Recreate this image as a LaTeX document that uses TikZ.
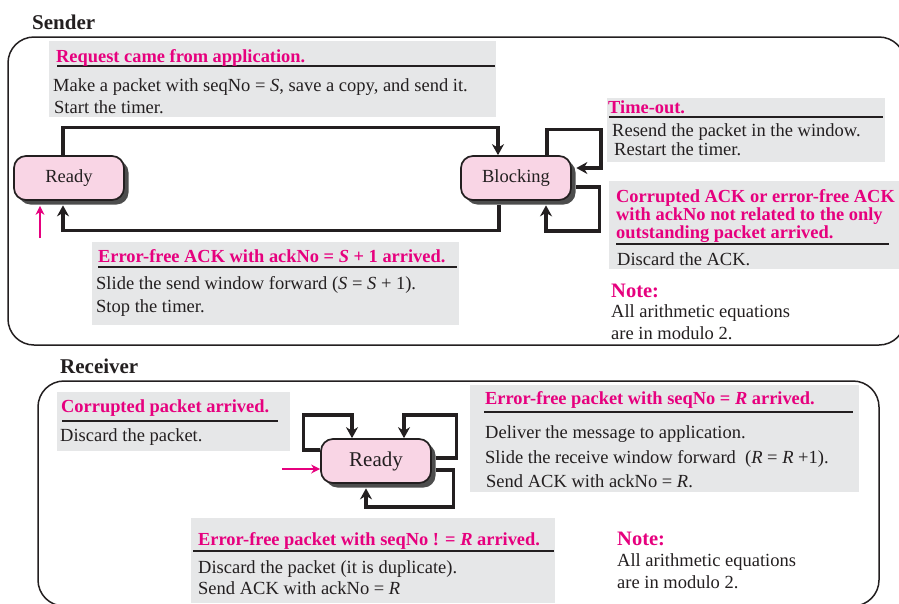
\documentclass[tikz,border=0pt]{standalone}
\usepackage{fontspec}
\setmainfont{Liberation Serif}
\usetikzlibrary{arrows.meta,shadows}
\definecolor{mag}{HTML}{E6007E}
\definecolor{pinkfill}{HTML}{F9D5E5}
\definecolor{boxgray}{HTML}{E6E7E8}
\definecolor{ink}{HTML}{231F20}
\definecolor{shadowgray}{HTML}{4D4D4D}
\begin{document}
\begin{tikzpicture}[x=1pt,y=-1pt,
  state/.style={draw=ink, line width=1.7pt, fill=pinkfill, rounded corners=12pt,
    minimum width=110pt, minimum height=44pt, inner sep=0pt, text=ink,
    font=\fontsize{18.5}{22}\selectfont,
    drop shadow={shadow xshift=4.5pt, shadow yshift=-4.5pt, fill=shadowgray, opacity=1}},
  conn/.style={draw=ink, line width=3.1pt, -{Stealth[length=11pt,width=12pt]}},
  startarrow/.style={draw=mag, line width=2.4pt, -{Stealth[length=9pt,width=9pt]}},
  frame/.style={draw=ink, line width=1.5pt, rounded corners=26pt},
  rule/.style={draw=ink, line width=1.3pt},
  gbox/.style={fill=boxgray},
  txt/.style={anchor=base west, inner sep=0pt, text=ink, font=\fontsize{18.5}{22}\selectfont},
  hd/.style={anchor=base west, inner sep=0pt, text=mag, font=\bfseries\fontsize{18.4}{22}\selectfont},
  title/.style={anchor=base west, inner sep=0pt, text=ink, font=\bfseries\fontsize{21}{24}\selectfont},
  notehd/.style={anchor=base west, inner sep=0pt, text=mag, font=\bfseries\fontsize{20.5}{24}\selectfont},
]
\useasboundingbox (0,0) rectangle (899,603);
\clip (0,0) rectangle (899,603);
\fill[white] (0,0) rectangle (899,603);

% ---------------- Sender ----------------
\node[title] (sendertitle) at (32,29) {Sender};
\draw[frame] (8,37) rectangle (905,345);

% gray boxes
\fill[gbox] (49,41) rectangle (496,117);
\fill[gbox] (607,98) rectangle (885,162);
\fill[gbox] (609,181) rectangle (900,269);
\fill[gbox] (92,242) rectangle (459,325);

% rules
\draw[rule] (57,66) -- (495,66);
\draw[rule] (609,117) -- (883,117);
\draw[rule] (616,244) -- (889,244);
\draw[rule] (98,267) -- (457,267);

% texts
\node[hd] (h1) at (56,62) {Request came from application.};
\node[txt] (b1a) at (53,91) {Make a packet with seqNo = \textit{S}, save a copy, and send it.};
\node[txt] (b1b) at (54,113) {Start the timer.};

\node[hd] (h2) at (608,113) {Time-out.};
\node[txt] (b2a) at (612,136) {Resend the packet in the window.};
\node[txt] (b2b) at (614,155) {Restart the timer.};

\node[hd] (h3a) at (616,202) {Corrupted ACK or error-free ACK};
\node[hd] (h3b) at (616,220) {with ackNo not related to the only};
\node[hd] (h3c) at (616,238) {outstanding packet arrived.};
\node[txt] (b3) at (617,265) {Discard the ACK.};

\node[notehd] (n1) at (611,297) {Note:};
\node[txt] (n1a) at (611,317) {All arithmetic equations};
\node[txt] (n1b) at (611,339) {are in modulo 2.};

\node[hd] (h5) at (98,262) {Error-free ACK with ackNo = \textit{S} + 1 arrived.};
\node[txt] (b5a) at (96,289) {Slide the send window forward (\textit{S} = \textit{S} + 1).};
\node[txt] (b5b) at (96,312) {Stop the timer.};

% states
\node[state] (sready) at (69,178) {Ready};
\node[state] (block) at (516,178) {Blocking};

% connectors
\draw[conn] ([xshift=-6pt]sready.north) -- ++(0,-28) -| ([xshift=-18pt]block.north);
\draw[conn] ([xshift=-17pt,yshift=-4pt]block.south) -- ++(0,26) -| ([xshift=-6pt,yshift=-4.5pt]sready.south);
\draw[conn] ([xshift=31pt]block.north) -- ++(0,-26) -- ++(54,0) |- ([xshift=4.5pt,yshift=10pt]block.east);
\draw[conn] ([xshift=4pt,yshift=-9pt]block.east) -- ++(24,0) -- ++(0,44) -| ([xshift=30pt,yshift=-4.5pt]block.south);
\coordinate (sstart) at (40,238);
\coordinate (sreadybot) at ([yshift=-5pt]sready.south);
\draw[startarrow] (sstart) -- (sstart |- sreadybot);

% ---------------- Receiver ----------------
\node[title] (receivertitle) at (60,373) {Receiver};
\draw[frame] (38,381) rectangle (879,606);

\fill[gbox] (57,392) rectangle (290,451);
\fill[gbox] (470,385) rectangle (859,492);
\fill[gbox] (191,518) rectangle (555,603);

\draw[rule] (62,421) -- (278,421);
\draw[rule] (484,412) -- (853,412);
\draw[rule] (193,551) -- (554,551);

\node[hd] (h6) at (61,412) {Corrupted packet arrived.};
\node[txt] (b6) at (60,441) {Discard the packet.};

\node[hd] (h7) at (485,404) {Error-free packet with seqNo = \textit{R} arrived.};
\node[txt] (b7a) at (485,438) {Deliver the message to application.};
\node[txt] (b7b) at (485,463) {Slide the receive window forward~~(\textit{R} = \textit{R} +1).};
\node[txt] (b7c) at (486,487) {Send ACK with ackNo = \textit{R}.};

\node[hd] (h8) at (198,545) {Error-free packet with seqNo ! = \textit{R} arrived.};
\node[txt] (b8a) at (198,573) {Discard the packet (it is duplicate).};
\node[txt] (b8b) at (198,594) {Send ACK with ackNo = \textit{R}};

\node[notehd] (n2) at (617,545) {Note:};
\node[txt] (n2a) at (617,566) {All arithmetic equations};
\node[txt] (n2b) at (617,588) {are in modulo 2.};

\node[state, font=\fontsize{21}{24}\selectfont] (rready) at (376,461) {Ready};

\draw[conn] ([yshift=11pt]rready.west) -- ++(-17,0) -- ++(0,-35) -| ([xshift=-24pt]rready.north);
\draw[conn] ([xshift=4pt,yshift=3pt]rready.east) -- ++(21,0) -- ++(0,-43) -| ([xshift=28pt]rready.north);
\draw[conn] ([xshift=4pt,yshift=-9pt]rready.east) -- ++(18,0) -- ++(0,37) -| ([xshift=-10pt,yshift=-4.5pt]rready.south);
\coordinate (rstart) at (282,469);
\draw[startarrow] (rstart) -- (rstart -| rready.west);
\end{tikzpicture}
\end{document}
